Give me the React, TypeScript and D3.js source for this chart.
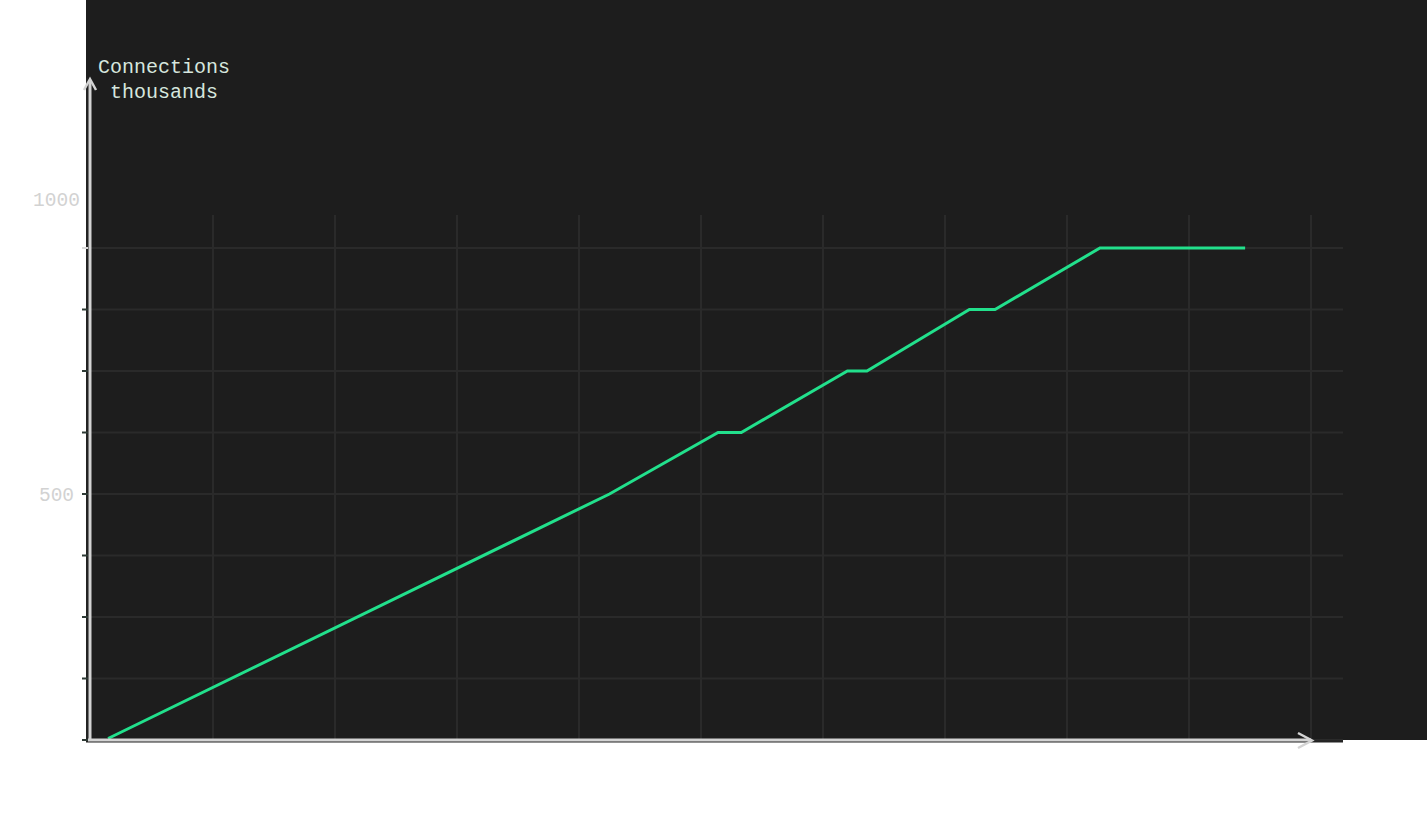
import React from "react";
import * as d3 from "d3";

// connection count over time (thousands)
const timeValues = [0.14, 4.25, 5.14, 5.33, 6.2, 6.36, 7.2, 7.41, 8.27, 9.46];
const connValues = [3, 500, 625, 625, 750, 750, 875, 875, 1000, 1000];

const xGridTicks = [1, 2, 3, 4, 5, 6, 7, 8, 9, 10];
const yGridTicks = [0, 125, 250, 375, 500, 625, 750, 875, 1000];
// labels as drawn in the source (the "1000" label sits above its grid line)
const yLabelValues = [500, 1100];
const yLabelTexts = ["500", "1000"];

const W = 1427;
const H = 831;
const MONO = "'Liberation Mono', 'DejaVu Sans Mono', monospace";

const App: React.FC = () => {
  const x = d3.scaleLinear().domain([0, 10]).range([91, 1311]);
  const y = d3.scaleLinear().domain([0, 1000]).range([740, 248]);

  const line = d3
    .line<number>()
    .x((_, i) => x(timeValues[i]))
    .y((d) => y(d));

  const gridTop = y(1067);

  return (
    <svg
      width={W}
      height={H}
      style={{ position: "absolute", left: 0, top: 0, background: "#fff" }}
    >
      <rect x={86} y={0} width={W - 86} height={740} fill="#1d1d1d" />

      {/* grid */}
      {yGridTicks.map((t) => (
        <line
          key={"h" + t}
          x1={91}
          x2={1343}
          y1={y(t)}
          y2={y(t)}
          stroke="#2a2a2a"
          strokeWidth={2}
        />
      ))}
      {xGridTicks.map((t) => (
        <line
          key={"v" + t}
          x1={x(t)}
          x2={x(t)}
          y1={gridTop}
          y2={740}
          stroke="#2a2a2a"
          strokeWidth={2}
        />
      ))}

      {/* dark domain lines + ticks */}
      <line x1={87} x2={87} y1={78} y2={742} stroke="#232323" strokeWidth={2} />
      <line x1={86} x2={1343} y1={741.5} y2={741.5} stroke="#232323" strokeWidth={2} />
      {yGridTicks.map((t) => (
        <line
          key={"t" + t}
          x1={82}
          x2={88}
          y1={y(t)}
          y2={y(t)}
          stroke={t === 1000 ? "#d8d8d8" : "#2e3a35"}
          strokeWidth={2}
        />
      ))}

      {/* y tick labels */}
      {yLabelValues.map((v, i) => (
        <text
          key={"l" + v}
          x={56.5}
          y={y(v)}
          dy="0.35em"
          textAnchor="middle"
          fontFamily={MONO}
          fontSize={19.5}
          fill="#d2d2d2"
        >
          {yLabelTexts[i]}
        </text>
      ))}

      {/* data line */}
      <path
        d={line(connValues) || ""}
        fill="none"
        stroke="#22e08c"
        strokeWidth={3}
        strokeLinejoin="miter"
      />

      {/* light axes with arrows */}
      <line x1={90} x2={90} y1={80} y2={741} stroke="#d4d4d4" strokeWidth={3} />
      <path d="M84,90 L90,79 L96,90" fill="none" stroke="#d4d4d4" strokeWidth={2.5} />
      <line x1={88} x2={1311} y1={740} y2={740} stroke="#d4d4d4" strokeWidth={3} />
      <path d="M1298,733 L1312,740.5 L1298,748" fill="none" stroke="#d4d4d4" strokeWidth={2.5} />

      {/* axis title */}
      <text
        x={164}
        y={73}
        textAnchor="middle"
        fontFamily={MONO}
        fontSize={20}
        fill="#d6e6de"
      >
        <tspan x={164}>Connections</tspan>
        <tspan x={164} dy={25}>thousands</tspan>
      </text>
    </svg>
  );
};

export default App;
